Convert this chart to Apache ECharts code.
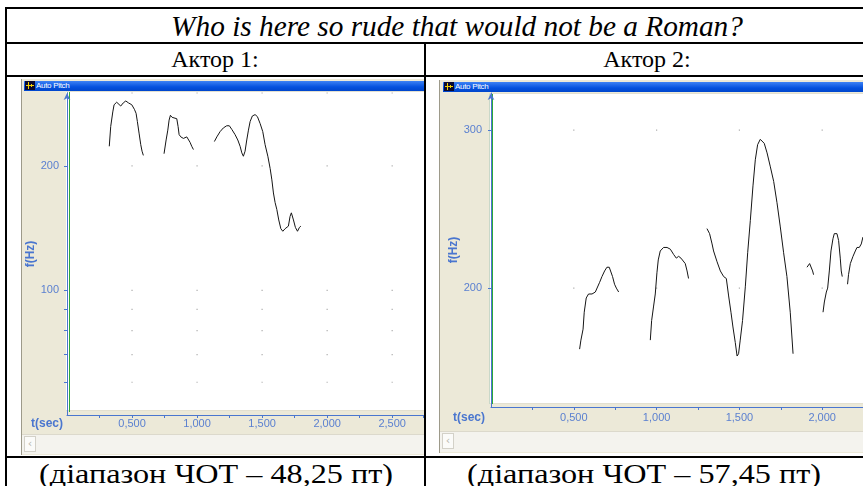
<!DOCTYPE html>
<html><head><meta charset="utf-8">
<script src="https://cdn.jsdelivr.net/npm/echarts@6/dist/echarts.min.js"></script>
<style>
html,body{margin:0;padding:0;width:863px;height:486px;overflow:hidden;background:#fff;}
div{box-sizing:border-box;}
.a{position:absolute;}
.ln{position:absolute;background:#000;}
.t{position:absolute;font-family:"Liberation Serif","Times New Roman",serif;color:#000;white-space:nowrap;transform:translateX(-50%);text-align:center;}
.ft{transform:translateX(-50%) scaleX(1.15);}
.bar{position:absolute;height:10px;background:linear-gradient(#3d82f5,#0451de 60%,#0046cc);}
.ico{position:absolute;width:10px;height:9px;background:#0a0a30;}
.ico i{position:absolute;background:#f2d000;}
.cap{position:absolute;font:8px/10px "Liberation Sans",Arial,sans-serif;color:#fff;letter-spacing:-0.3px;}
.scr{position:absolute;background:#f4f3ee;border-top:1px solid #dcd9cc;}
.btn{position:absolute;width:12px;height:16px;background:#fbfbf9;border:1px solid #d3d1c8;color:#b8b6ad;font:11px/14px "DejaVu Sans",sans-serif;text-align:center;}
#c{position:absolute;left:0;top:0;width:863px;height:486px;z-index:5;}
</style></head><body>

<!-- table grid -->
<div class="ln" style="left:5px;top:7px;width:900px;height:2px"></div>
<div class="ln" style="left:5px;top:7px;width:2px;height:500px"></div>
<div class="ln" style="left:5px;top:42px;width:900px;height:2px"></div>
<div class="ln" style="left:5px;top:75px;width:900px;height:2px"></div>
<div class="ln" style="left:424px;top:42px;width:2px;height:500px"></div>
<div class="ln" style="left:5px;top:456px;width:900px;height:2px"></div>

<div class="t" style="left:457px;top:9px;height:33px;font-size:29.3px;line-height:34px;font-style:italic">Who is here so rude that would not be a Roman?</div>
<div class="t" style="left:215px;top:44px;height:31px;font-size:24px;line-height:31px">Актор 1:</div>
<div class="t" style="left:647px;top:44px;height:31px;font-size:24px;line-height:31px">Актор 2:</div>
<div class="t ft" style="left:216px;top:459px;height:28px;font-size:28px;line-height:30px">(діапазон ЧОТ – 48,25 пт)</div>
<div class="t ft" style="left:644px;top:459px;height:28px;font-size:28px;line-height:30px">(діапазон ЧОТ – 57,45 пт)</div>

<!-- left panel chrome -->
<div class="a" style="left:21px;top:79px;width:403px;height:376px;background:#ece9d8;border-left:1px solid #9d9a8a"></div>
<div class="bar" style="left:24px;top:81px;width:400px"></div>
<div class="ico" style="left:25px;top:81px"><i style="left:1px;top:4px;width:8px;height:1px"></i><i style="left:3px;top:1px;width:1px;height:7px"></i><i style="left:6px;top:3px;width:1px;height:3px"></i></div>
<div class="cap" style="left:36px;top:81px">Auto Pitch</div>
<div class="a" style="left:66px;top:91px;width:358px;height:320px;background:#fff;border-top:1px solid #e3e0d0;border-bottom:1px solid #e3e0d0"></div>
<div class="a" style="left:67px;top:92px;width:1px;height:320px;background:#9fd09f"></div>
<div class="a" style="left:69px;top:92px;width:1px;height:320px;background:#2ea83a"></div>
<div class="scr" style="left:22px;top:434px;width:402px;height:20px"></div>
<div class="btn" style="left:24px;top:436px">‹</div>

<!-- right panel chrome -->
<div class="a" style="left:439px;top:80px;width:440px;height:373px;background:#ece9d8;border-left:1px solid #9d9a8a"></div>
<div class="bar" style="left:443px;top:82px;width:430px"></div>
<div class="ico" style="left:444px;top:82px"><i style="left:1px;top:4px;width:8px;height:1px"></i><i style="left:3px;top:1px;width:1px;height:7px"></i><i style="left:6px;top:3px;width:1px;height:3px"></i></div>
<div class="cap" style="left:455px;top:82px">Auto Pitch</div>
<div class="a" style="left:489px;top:93px;width:390px;height:311px;background:#fff;border-top:1px solid #e3e0d0;border-bottom:1px solid #e3e0d0"></div>
<div class="a" style="left:489px;top:94px;width:1px;height:310px;background:#c9d8c9"></div>
<div class="a" style="left:492px;top:94px;width:1px;height:310px;background:#2ea83a"></div>
<div class="scr" style="left:440px;top:431px;width:440px;height:21px"></div>
<div class="btn" style="left:442px;top:433px">‹</div>

<div id="c"></div>
<script>
// ---- data (time in s, F0 in Hz) ----
const actor1Seg1 = [[0.325,223],[0.336,249],[0.352,270],[0.362,281],[0.382,285],[0.395,283],[0.413,279],[0.433,284],[0.452,287],[0.472,284],[0.498,281],[0.518,274],[0.531,268],[0.541,256],[0.554,240],[0.567,225],[0.577,217],[0.587,212]];
const actor1Seg2 = [[0.746,214],[0.762,231],[0.775,244],[0.785,258],[0.795,265],[0.808,262],[0.823,261],[0.844,260],[0.854,249],[0.862,238],[0.875,235],[0.895,233],[0.921,235],[0.936,233],[0.946,228],[0.959,223],[0.972,219]];
const actor1Seg3 = [[1.133,229],[1.152,235],[1.177,242],[1.202,247],[1.228,250],[1.248,250],[1.267,245],[1.292,238],[1.313,231],[1.331,223],[1.344,215],[1.356,211],[1.369,217],[1.382,231],[1.395,244],[1.408,256],[1.425,264],[1.446,266],[1.464,263],[1.485,253],[1.505,242],[1.523,225],[1.544,211],[1.562,197],[1.575,185],[1.587,172],[1.600,163],[1.613,157],[1.628,148],[1.644,141],[1.659,139],[1.677,141],[1.702,143],[1.715,151],[1.725,154],[1.741,148],[1.756,142],[1.772,139],[1.787,142],[1.798,143]];

const actor2Seg1 = [[0.535,171],[0.543,175],[0.556,180],[0.563,188],[0.575,195],[0.589,197],[0.610,197],[0.630,198],[0.640,199],[0.656,203],[0.670,206],[0.686,209],[0.700,211],[0.714,211],[0.725,210],[0.734,206],[0.746,202],[0.757,200],[0.771,198]];
const actor2Seg2 = [[0.962,175],[0.970,184],[0.982,191],[0.992,197],[1.002,208],[1.010,215],[1.022,220],[1.042,222],[1.063,222],[1.083,221],[1.103,218],[1.119,216],[1.133,217],[1.147,216],[1.159,215],[1.173,213],[1.184,209],[1.193,205]];
const actor2Seg3 = [[1.304,233],[1.320,230],[1.335,224],[1.344,220],[1.365,214],[1.385,209],[1.405,206],[1.421,205],[1.435,196],[1.449,188],[1.461,181],[1.475,174],[1.486,168],[1.495,169],[1.505,175],[1.519,184],[1.536,201],[1.550,219],[1.566,238],[1.582,260],[1.596,278],[1.610,289],[1.626,293],[1.636,293],[1.650,290],[1.667,283],[1.687,273],[1.707,263],[1.727,249],[1.747,234],[1.767,219],[1.787,206],[1.807,188],[1.824,169]];
const actor2Seg4 = [[1.908,211],[1.924,213],[1.934,212],[1.942,209],[1.948,207]];
const actor2Seg5 = [[2.005,188],[2.013,193],[2.025,198],[2.033,200],[2.043,209],[2.053,220],[2.065,227],[2.073,230],[2.089,230],[2.099,226],[2.109,216],[2.115,209],[2.121,206]];
const actor2Seg6 = [[2.153,202],[2.159,207],[2.170,213],[2.186,217],[2.200,220],[2.210,222],[2.224,222],[2.236,224],[2.246,228]];

// axes / ticks
const xMajor1 = [0.5, 1.0, 1.5, 2.0, 2.5];
const xMajor2 = [0.5, 1.0, 1.5, 2.0];
const yLabels1 = [100, 200];
const yTicks1 = [60, 70, 80, 90, 100, 200];
const yGrid1 = [60, 70, 80, 90, 100, 200, 300];
const yLabels2 = [200, 300];
const yGrid2 = [200, 300];
const yRange1 = [50, 300];
const yRange2 = [147.4, 330];
const xMax1 = 2.7385;
const xMax2 = 2.5;

const BLUE = '#4a76cf';
const LBL = '#5b80d0';
const NARROW = '"Liberation Sans Narrow","Arial Narrow","Liberation Sans",Arial,sans-serif';

function fmtX(v){
  if (v <= 0) return '';
  const k = v / 0.5;
  if (Math.abs(k - Math.round(k)) > 1e-6) return '';
  return v.toFixed(3).replace('.', ',');
}
function xAx(gi, max, margin, gap, pad){
  return {
    type:'value', gridIndex:gi, min:0, max:max, interval:0.25,
    axisLine:{show:true, lineStyle:{color:BLUE, width:1}},
    axisTick:{show:true, length:3, lineStyle:{color:BLUE}},
    splitLine:{show:false},
    axisLabel:{show:true, formatter:fmtX, margin:margin, color:LBL, fontSize:11, fontFamily:NARROW, showMinLabel:false, showMaxLabel:true},
    name:'t(sec)', nameLocation:'start', nameGap:gap,
    nameTextStyle:{color:BLUE, fontWeight:'bold', fontSize:12, fontFamily:NARROW, verticalAlign:'top', align:'right', padding:[pad,0,0,0]}
  };
}
function yAx(gi, range, labels, ticks, offset, gap){
  return {
    type:'log', logBase:10, gridIndex:gi, min:range[0], max:range[1], offset:offset,
    axisLine:{show:true, symbol:['none','arrow'], symbolSize:[5,7], lineStyle:{color:BLUE, width:1}},
    axisTick:{show:true, length:3, customValues:ticks, lineStyle:{color:BLUE}},
    minorTick:{show:false},
    splitLine:{show:false},
    axisLabel:{show:true, customValues:labels, margin:4, color:LBL, fontSize:11, fontFamily:NARROW, formatter:v=>String(Math.round(v))},
    name:'f(Hz)', nameLocation:'middle', nameRotate:90, nameGap:gap,
    nameTextStyle:{color:BLUE, fontWeight:'bold', fontSize:12, fontFamily:NARROW}
  };
}
function lineS(seg, gi){
  return {type:'line', xAxisIndex:gi, yAxisIndex:gi, data:seg, symbol:'none', showSymbol:false,
    lineStyle:{color:'#151515', width:1}, silent:true, animation:false, z:4};
}
function dots(xs, ys, gi){
  const d = [];
  xs.forEach(x => ys.forEach(y => d.push([x, y])));
  return {type:'scatter', xAxisIndex:gi, yAxisIndex:gi, data:d, symbol:'rect', symbolSize:1.2,
    itemStyle:{color:'#9a9a9a'}, silent:true, animation:false, z:3};
}

const chart = echarts.init(document.getElementById('c'), null, {renderer:'canvas'});
chart.setOption({
  backgroundColor:'transparent',
  animation:false,
  grid:[
    {left:67, top:93, width:356.2, height:322, containLabel:false, outerBoundsMode:'none'},
    {left:491, top:93, width:414, height:314, containLabel:false, outerBoundsMode:'none'}
  ],
  xAxis:[ xAx(0, xMax1, 3, 4, 3), xAx(1, xMax2, 5, 6, 5) ],
  yAxis:[ yAx(0, yRange1, yLabels1, yTicks1, 4, 22), yAx(1, yRange2, yLabels2, yLabels2, 5, 26) ],
  series:[
    dots(xMajor1, yGrid1, 0),
    dots(xMajor2, yGrid2, 1),
    lineS(actor1Seg1, 0), lineS(actor1Seg2, 0), lineS(actor1Seg3, 0),
    lineS(actor2Seg1, 1), lineS(actor2Seg2, 1), lineS(actor2Seg3, 1),
    lineS(actor2Seg4, 1), lineS(actor2Seg5, 1), lineS(actor2Seg6, 1)
  ]
});
</script>
</body></html>
